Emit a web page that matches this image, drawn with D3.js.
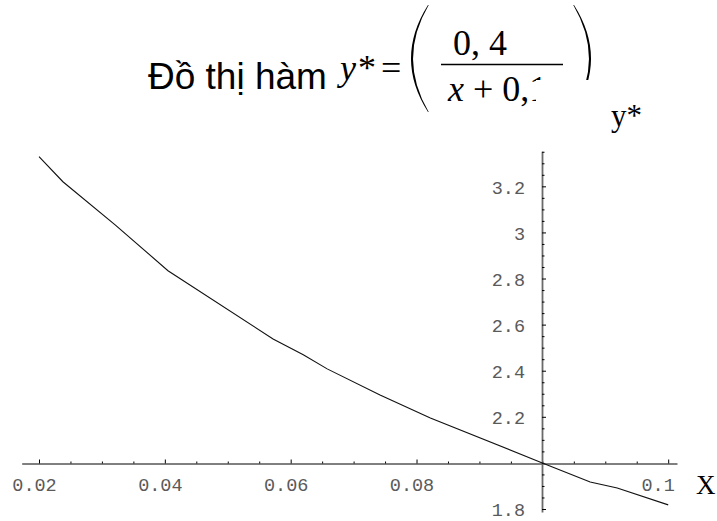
<!DOCTYPE html>
<html>
<head>
<meta charset="utf-8">
<script src="https://cdn.jsdelivr.net/npm/d3@7"></script>
<style>
  body { margin: 0; background: #fff; }
</style>
</head>
<body>
<svg id="chart" width="717" height="521"></svg>
<script>
// Sampled values of y* over x
const xValues = [0.0200, 0.0238, 0.0321, 0.0405, 0.0572, 0.0620, 0.0658, 0.0742, 0.0822, 0.1000, 0.1076, 0.1119, 0.1200];
const yValues = [3.329, 3.220, 3.033, 2.834, 2.538, 2.469, 2.408, 2.295, 2.195, 2.000, 1.917, 1.891, 1.818];

// Axis ticks
const xTickValues = [0.02, 0.04, 0.06, 0.08, 0.12];
const xTickLabels = ["0.02", "0.04", "0.06", "0.08", "0.12"];
const yTickValues = [1.8, 2.2, 2.4, 2.6, 2.8, 3, 3.2];
const yTickLabels = ["1.8", "2.2", "2.4", "2.6", "2.8", "3", "3.2"];

// Axis labels and title
const titleText = "Đồ thị hàm";
const xAxisLabel = "X";
const yAxisLabel = "y*";

const svg = d3.select("#chart");

const x = d3.scaleLinear().domain([0.01725, 0.1214]).range([21.7, 677]);
const y = d3.scaleLinear().domain([1.787, 3.352]).range([512, 151.3]);

const xOrigin = 0.1, yOrigin = 2;
const axisY = Math.round(y(yOrigin)) + 0.5;
const axisX = Math.round(x(xOrigin));

const xMinor = d3.range(0, 21).map(i => +(0.02 + i * 0.005).toFixed(3))
  .filter(v => !xTickValues.some(t => Math.abs(t - v) < 1e-9));
const yMinor = d3.range(0, 32).map(i => +(1.8 + i * 0.05).toFixed(2))
  .filter(v => v <= 3.35 && !yTickValues.some(t => Math.abs(t - v) < 1e-9));

const monoFont = "'Liberation Mono', 'DejaVu Sans Mono', monospace";
const labelFill = "#5a5a5a";

// x axis: ticks point up into the plot, labels underneath
const gx = svg.append("g").attr("transform", `translate(0,${axisY})`);
gx.call(d3.axisBottom(x)
    .tickValues(xTickValues)
    .tickFormat((d, i) => xTickLabels[i])
    .tickSizeInner(-4).tickSizeOuter(0).tickPadding(14));
gx.select(".domain").attr("stroke", "#000").attr("stroke-width", 1);
gx.selectAll(".tick line").attr("stroke", "#000");
gx.selectAll(".tick text")
  .attr("font-family", monoFont).attr("font-size", 18.5)
  .attr("fill", labelFill).attr("dx", -5);
const gxm = svg.append("g").attr("transform", `translate(0,${axisY})`);
gxm.call(d3.axisBottom(x).tickValues(xMinor).tickFormat("").tickSizeInner(-2).tickSizeOuter(0));
gxm.select(".domain").remove();
gxm.selectAll(".tick line").attr("stroke", "#000");

// y axis: ticks point right, labels on the left
const gy = svg.append("g").attr("transform", `translate(${axisX},0)`);
gy.call(d3.axisLeft(y)
    .tickValues(yTickValues)
    .tickFormat((d, i) => yTickLabels[i])
    .tickSizeInner(-4).tickSizeOuter(0).tickPadding(17));
gy.select(".domain").attr("stroke", "#6a6a6a").attr("stroke-width", 1.8);
gy.selectAll(".tick line").attr("stroke", "#000");
gy.selectAll(".tick text")
  .attr("font-family", monoFont).attr("font-size", 18.5)
  .attr("fill", labelFill).attr("dy", "0.36em");
const gym = svg.append("g").attr("transform", `translate(${axisX},0)`);
gym.call(d3.axisLeft(y).tickValues(yMinor).tickFormat("").tickSizeInner(-2.5).tickSizeOuter(0));
gym.select(".domain").remove();
gym.selectAll(".tick line").attr("stroke", "#000");

// curve
const pts = xValues.map((v, i) => [v, yValues[i]]);
svg.append("path")
  .datum(pts)
  .attr("fill", "none")
  .attr("stroke", "#111")
  .attr("stroke-width", 1.1)
  .attr("d", d3.line().x(d => x(d[0])).y(d => y(d[1])));

// title and formula
const serif = "'Liberation Serif', 'Times New Roman', serif";
svg.append("text").attr("x", 148).attr("y", 89)
  .attr("font-family", "'Liberation Sans', Arial, sans-serif").attr("font-size", 37)
  .attr("fill", "#000").text(titleText);

const eq = svg.append("g");
eq.append("text").attr("x", 340).attr("y", 80)
  .attr("font-family", serif).attr("font-style", "italic").attr("font-size", 36).text("y");
eq.append("text").attr("x", 358).attr("y", 80)
  .attr("font-family", serif).attr("font-size", 36).text("*");
eq.append("text").attr("x", 381).attr("y", 80)
  .attr("font-family", serif).attr("font-size", 36).text("=");

// stretched parentheses
function paren(cx, top, bottom, bulge, dir) {
  const mid = (top + bottom) / 2;
  const t = 3.4 * dir;
  return `M${cx},${top} Q${cx - bulge * dir},${mid} ${cx},${bottom} ` +
         `L${cx + 0.7 * dir},${bottom} Q${cx - bulge * dir + t},${mid} ${cx + 0.7 * dir},${top} Z`;
}
eq.append("path").attr("d", paren(428, 5, 112, 34, 1)).attr("fill", "#000");
eq.append("path").attr("d", paren(574, 5, 112, 34, -1)).attr("fill", "#000");

eq.append("text").attr("x", 480).attr("y", 55).attr("text-anchor", "middle")
  .attr("font-family", serif).attr("font-size", 36).text("0, 4");
eq.append("line").attr("x1", 441).attr("x2", 563).attr("y1", 64.5).attr("y2", 64.5)
  .attr("stroke", "#000").attr("stroke-width", 1.6);
const den = eq.append("text").attr("x", 448).attr("y", 101)
  .attr("font-family", serif).attr("font-size", 36);
den.append("tspan").attr("font-style", "italic").text("x");
den.append("tspan").text(" + 0,1");

// y axis label with its white backing
svg.append("rect").attr("x", 536).attr("y", 80).attr("width", 124).attr("height", 58).attr("fill", "#fff");
svg.append("text").attr("x", 611).attr("y", 126)
  .attr("font-family", serif).attr("font-size", 31).attr("fill", "#000").text(yAxisLabel);

// x axis label with its white backing
svg.append("rect").attr("x", 675).attr("y", 467).attr("width", 42).attr("height", 36).attr("fill", "#fff");
svg.append("text").attr("x", 696).attr("y", 494)
  .attr("font-family", serif).attr("font-size", 27).attr("fill", "#000").text(xAxisLabel);
</script>
</body>
</html>
